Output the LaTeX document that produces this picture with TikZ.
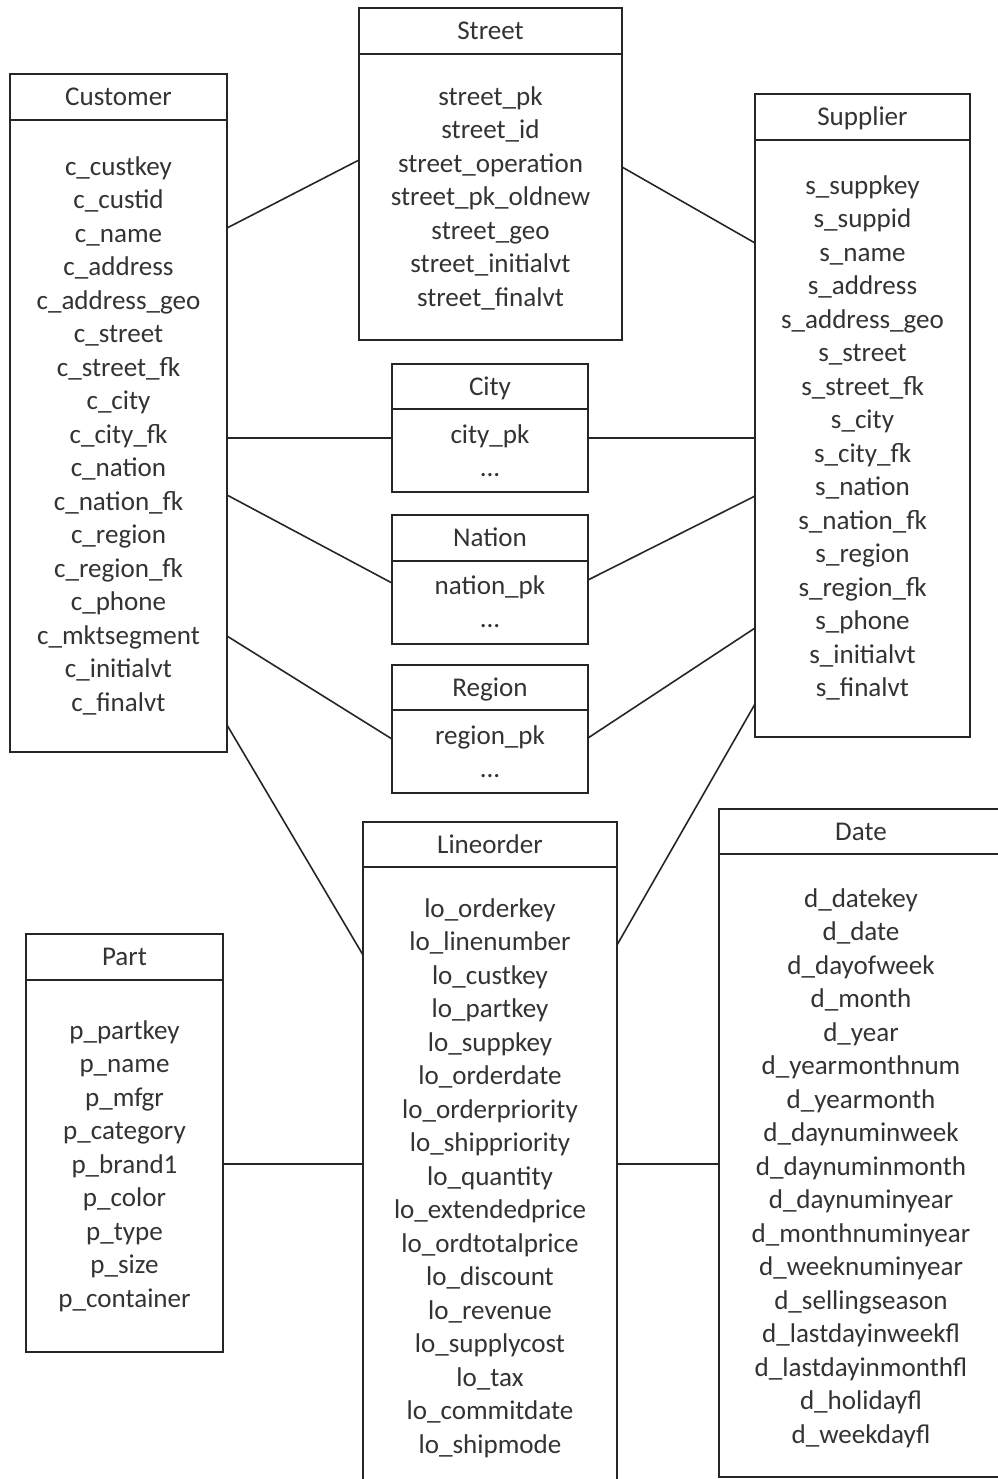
\documentclass[tikz,border=0pt]{standalone}
\usepackage{fontspec}
\setmainfont{Carlito}
\usetikzlibrary{calc,fit}

% placeholder row for the small lookup tables
\newcommand\moredots{...}

% One table: name, left, top, right, bottom, title rule, title, first baseline, fields
\newcommand\ertable[9]{%
  \node[tbl, fit={(#2,#3) (#4,#5)}] (#1) {};
  \draw[sepline] (#1.west |- 0,#6) -- (#1.east |- 0,#6);
  \node[lbl] (#1-title) at ({(#2+#4)/2}, {#3+31.5}) {#7};
  \foreach \t [count=\i from 0] in {#9}
    \node[lbl] (#1-\i) at ({(#2+#4)/2}, {#8+33.5*\i}) {\t};
}

\begin{document}
\begin{tikzpicture}[x=0.75pt, y=-0.75pt,
  tbl/.style={draw=black!85, line width=1.3pt, inner sep=0pt, outer sep=0pt, rectangle},
  sepline/.style={draw=black!85, line width=1.3pt},
  conn/.style={draw=black!85, line width=1.2pt},
  lbl/.style={anchor=base, inner sep=0pt, text=black!80, font=\fontsize{20.3}{24}\selectfont},
]
\useasboundingbox (0,0) rectangle (998,1479);
\clip (0,0) rectangle (998,1479);

\ertable{cust}{10}{74}{227}{752}{120}{Customer}{175}{c\_custkey, c\_custid, c\_name, c\_address, c\_address\_geo, c\_street, c\_street\_fk, c\_city, c\_city\_fk, c\_nation, c\_nation\_fk, c\_region, c\_region\_fk, c\_phone, c\_mktsegment, c\_initialvt, c\_finalvt}

\ertable{street}{359}{8}{622}{340}{54}{Street}{105}{street\_pk, street\_id, street\_operation, street\_pk\_oldnew, street\_geo, street\_initialvt, street\_finalvt}

\ertable{supp}{755}{94}{970}{737}{140}{Supplier}{194}{s\_suppkey, s\_suppid, s\_name, s\_address, s\_address\_geo, s\_street, s\_street\_fk, s\_city, s\_city\_fk, s\_nation, s\_nation\_fk, s\_region, s\_region\_fk, s\_phone, s\_initialvt, s\_finalvt}

\ertable{city}{392}{364}{588}{492}{409}{City}{443}{city\_pk, \moredots}
\ertable{nation}{392}{515}{588}{644}{561}{Nation}{594}{nation\_pk, \moredots}
\ertable{region}{392}{665}{588}{793}{710}{Region}{744}{region\_pk, \moredots}

\ertable{line}{363}{822}{617}{1500}{867}{Lineorder}{917}{lo\_orderkey, lo\_linenumber, lo\_custkey, lo\_partkey, lo\_suppkey, lo\_orderdate, lo\_orderpriority, lo\_shippriority, lo\_quantity, lo\_extendedprice, lo\_ordtotalprice, lo\_discount, lo\_revenue, lo\_supplycost, lo\_tax, lo\_commitdate, lo\_shipmode}

\ertable{date}{719}{809}{1003}{1477}{854}{Date}{907}{d\_datekey, d\_date, d\_dayofweek, d\_month, d\_year, d\_yearmonthnum, d\_yearmonth, d\_daynuminweek, d\_daynuminmonth, d\_daynuminyear, d\_monthnuminyear, d\_weeknuminyear, d\_sellingseason, d\_lastdayinweekfl, d\_lastdayinmonthfl, d\_holidayfl, d\_weekdayfl}

\ertable{part}{26}{934}{223}{1352}{980}{Part}{1039}{p\_partkey, p\_name, p\_mfgr, p\_category, p\_brand1, p\_color, p\_type, p\_size, p\_container}

% relationships
\draw[conn] (cust.east |- 0,228) -- (street.west |- 0,160);
\draw[conn] (street.east |- 0,167) -- (supp.west |- 0,243);
\draw[conn] (cust.east |- 0,438) -- (city.west |- 0,438);
\draw[conn] (city.east |- 0,438) -- (supp.west |- 0,438);
\draw[conn] (cust.east |- 0,495) -- (nation.west |- 0,583);
\draw[conn] (nation.east |- 0,580) -- (supp.west |- 0,496);
\draw[conn] (cust.east |- 0,636) -- (region.west |- 0,739);
\draw[conn] (region.east |- 0,738) -- (supp.west |- 0,628);
\draw[conn] (cust.east |- 0,725) -- (line.west |- 0,955);
\draw[conn] (supp.west |- 0,704) -- (line.east |- 0,945);
\draw[conn] (part.east |- 0,1164) -- (line.west |- 0,1164);
\draw[conn] (line.east |- 0,1164) -- (date.west |- 0,1164);
\end{tikzpicture}
\end{document}
